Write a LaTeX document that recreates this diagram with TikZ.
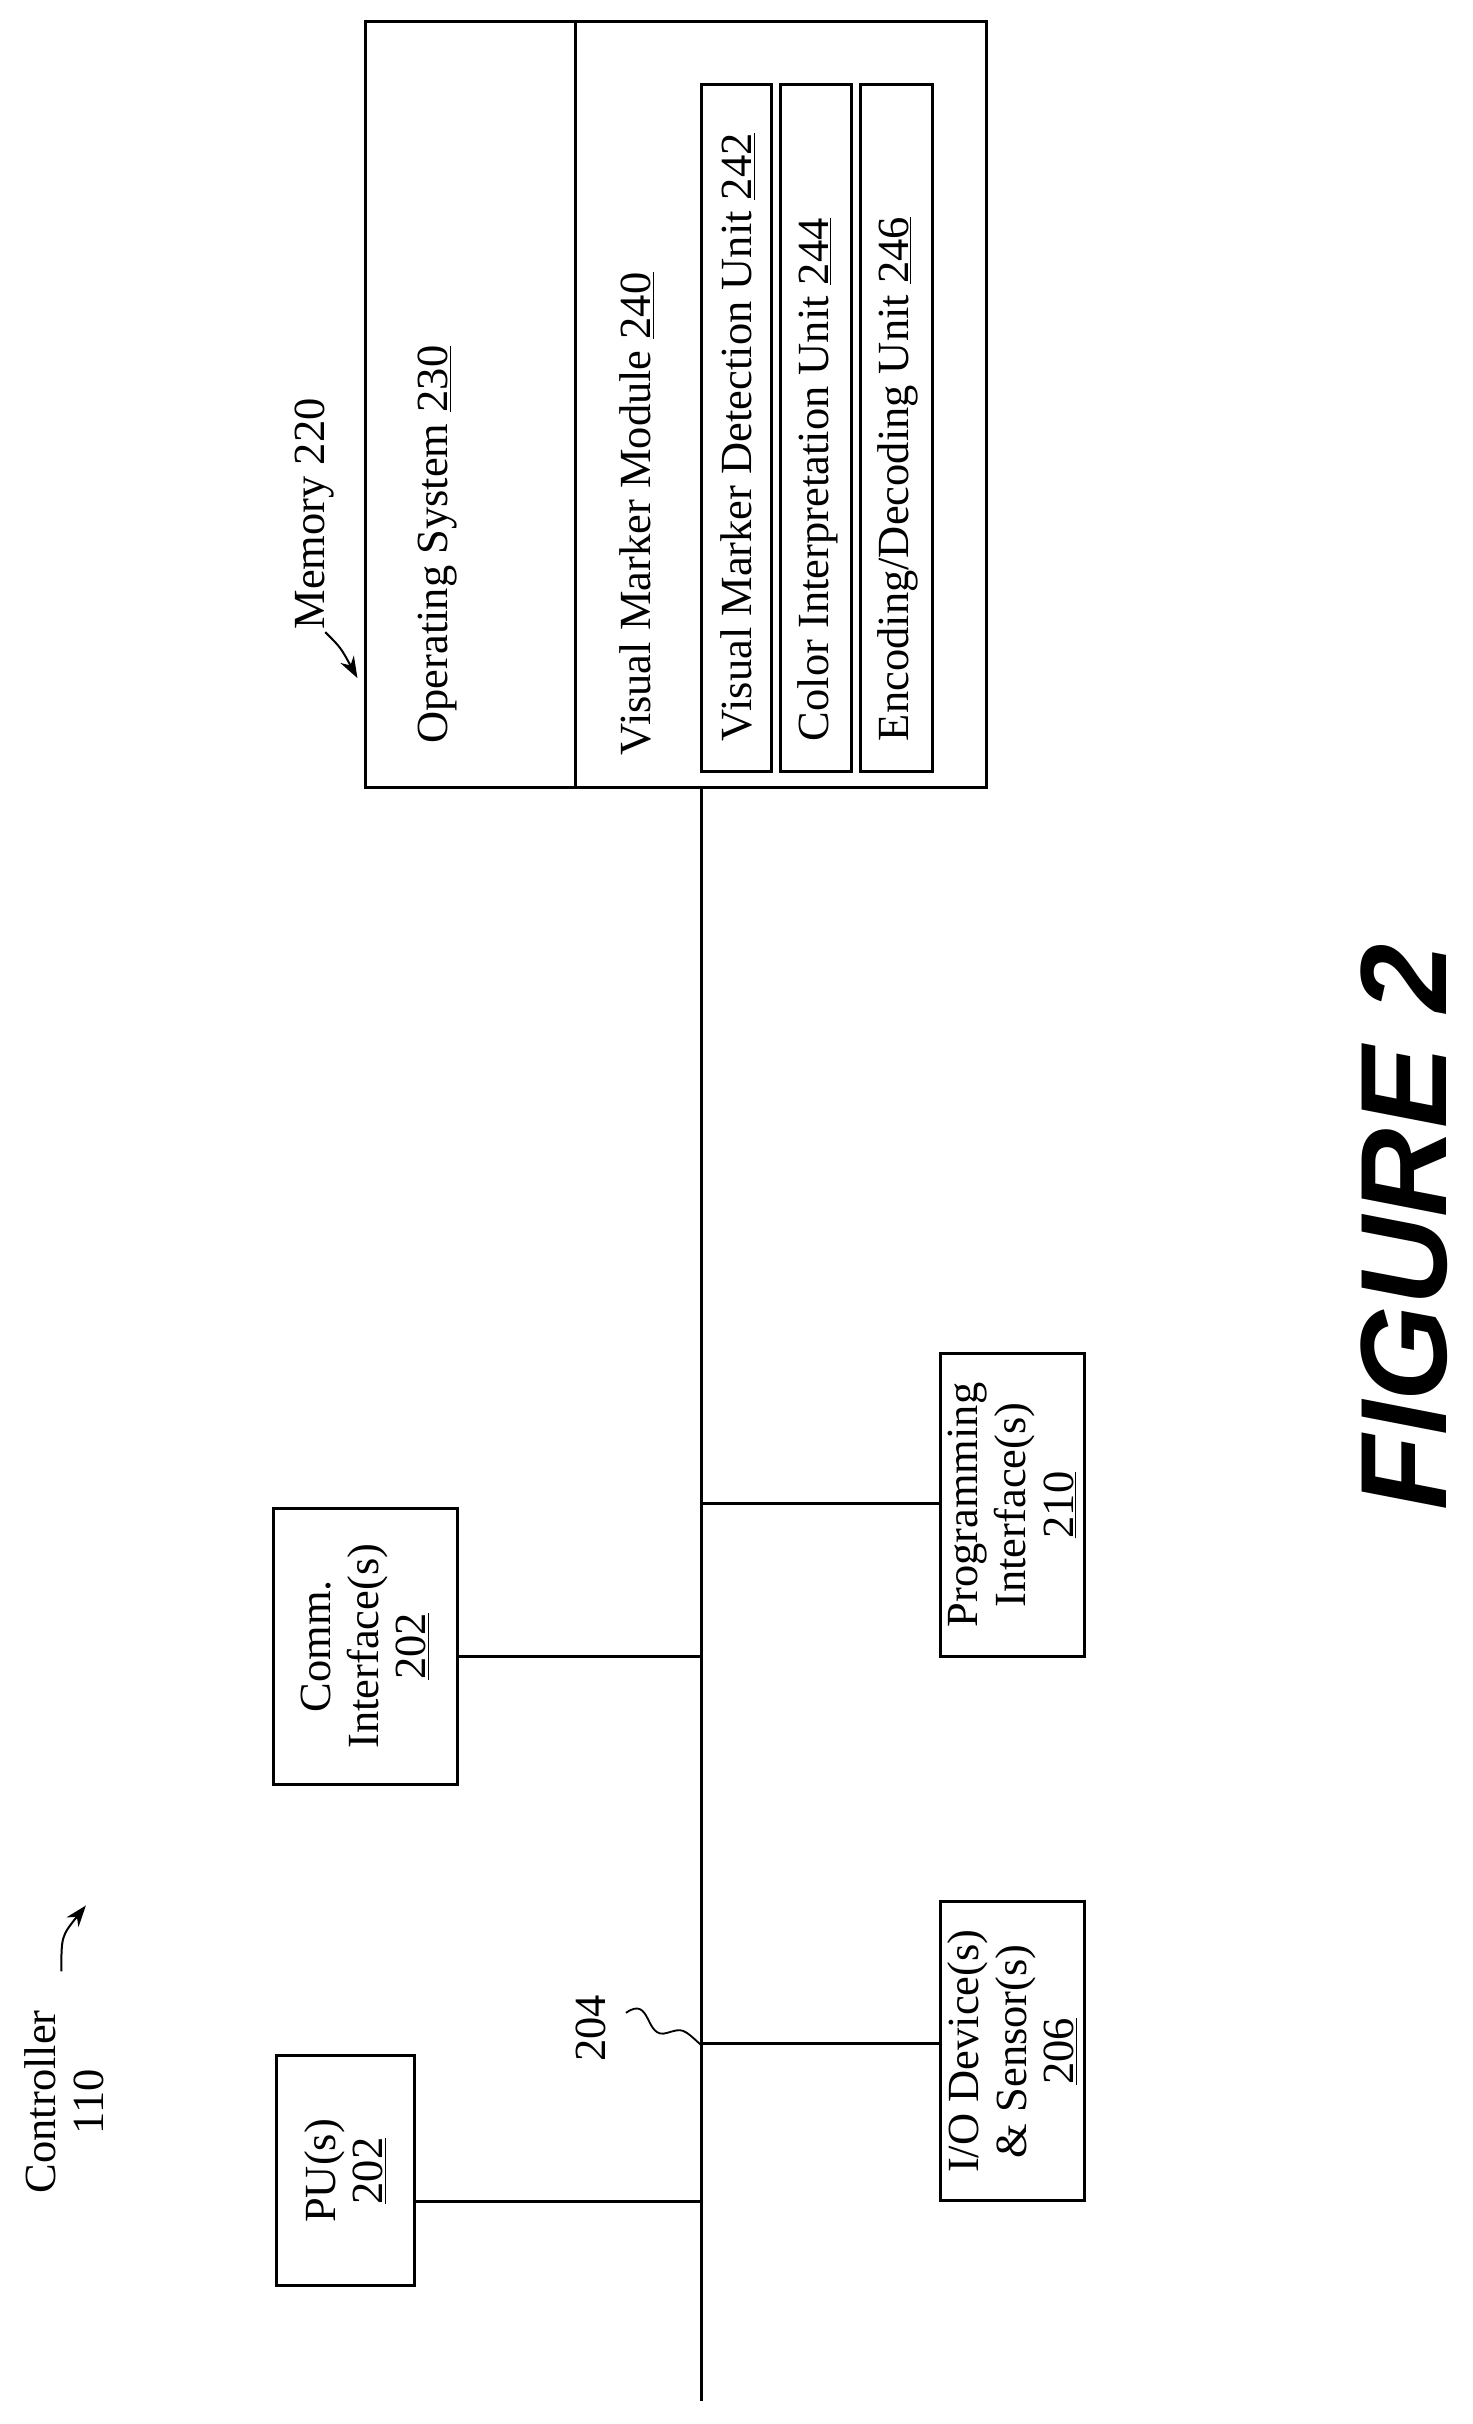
\documentclass[tikz,border=0pt]{standalone}
\usepackage{fontspec}
\usetikzlibrary{arrows.meta}
\setmainfont{Liberation Serif}
\newfontfamily\figfont{Liberation Sans}
\begin{document}
\begin{tikzpicture}[x=1pt,y=-1pt,line width=2pt,
  txt/.style={rotate=90,font=\fontsize{29}{31}\selectfont,align=center,inner sep=0},
  box/.style={draw,line width=2pt},
  arr/.style={-{Stealth[length=14pt,width=10pt]},line width=1.3pt}]
\useasboundingbox (0,0) rectangle (960,1580);
% memory
\draw[box] (238,14) rectangle (643,513);
\draw (375,14) -- (375,513);
\node[txt] (os) at (285,355) {Operating System \underline{230}};
\node[txt] (vmm) at (415,335) {Visual Marker Module \underline{240}};
\draw[box] (457,55) rectangle (503,503);
\draw[box] (509,55) rectangle (555,503);
\draw[box] (561,55) rectangle (608,503);
\node[txt,anchor=west] (u242) at (481,484) {Visual Marker Detection Unit \underline{242}};
\node[txt,anchor=west] (u244) at (533,484) {Color Interpretation Unit \underline{244}};
\node[txt,anchor=west] (u246) at (585,484) {Encoding/Decoding Unit \underline{246}};
\node[txt] (mem) at (205,335) {Memory 220};
\draw[arr] (212,412) .. controls (222,422) .. (233,442);
% bus
\coordinate (btop) at (457,513);
\coordinate (bbot) at (457,1565);
\draw (btop) -- (bbot);
% boxes
\node[box,minimum width=90pt,minimum height=150pt] (pu) at (225,1415) {};
\node[txt] at (pu) {PU(s)\\\underline{202}};
\node[box,minimum width=120pt,minimum height=180pt] (comm) at (238,1073) {};
\node[txt] at (comm) {Comm.\\Interface(s)\\\underline{202}};
\node[box,minimum width=94pt,minimum height=195pt] (io) at (660,1337) {};
\node[txt] at (io) {I/O Device(s)\\\& Sensor(s)\\\underline{206}};
\node[box,minimum width=94pt,minimum height=197pt] (pi) at (660,981) {};
\node[txt] at (pi) {Programming\\Interface(s)\\\underline{210}};
\draw (pu.east |- 0,1435) -- (457,1435);
\draw (comm.east |- 0,1080) -- (457,1080);
\draw (457,1332) -- (io.west |- 0,1332);
\draw (457,980) -- (pi.west |- 0,980);
% 204
\node[txt] (l204) at (385,1322) {204};
\draw[line width=1.2pt] (408,1312) .. controls (425,1300) and (420,1330) .. (435,1325) .. controls (445,1322) .. (457,1333);
% controller
\node[txt] (ctrl) at (42,1370) {Controller\\110};
\draw[arr] (40,1285) .. controls (40,1262) .. (56,1242);
% figure
\node[rotate=90,font=\figfont\bfseries\itshape\fontsize{80}{90}\selectfont] (fig) at (915,800) {FIGURE 2};
\end{tikzpicture}
\end{document}
